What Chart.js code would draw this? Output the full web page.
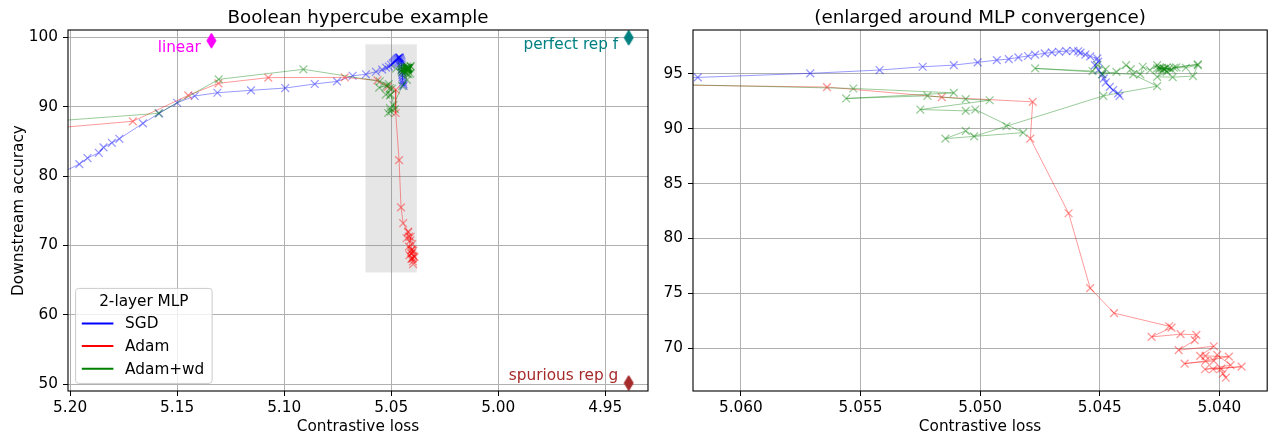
<!DOCTYPE html>
<html><head><meta charset="utf-8">
<script src="https://cdn.jsdelivr.net/npm/chart.js@4.4.1/dist/chart.umd.min.js"></script>
<style>
body{margin:0;background:#fff;width:1274px;height:439px;overflow:hidden;position:relative}
canvas{position:absolute;top:0}
#c1{left:0}
#c2{left:660px}
</style></head><body>
<canvas id="c1" width="660" height="439"></canvas>
<canvas id="c2" width="614" height="439"></canvas>
<script>
// ---------------- data ----------------
const seriesNames = ['SGD', 'Adam', 'Adam+wd'];

const sgdLoss = [5.2045, 5.1957, 5.1919, 5.1866, 5.1844, 5.1805, 5.1770, 5.1660, 5.1584, 5.1500,
  5.1418, 5.1312, 5.1155, 5.0995, 5.0857, 5.0753, 5.0680, 5.0618, 5.0571, 5.0542,
  5.0524, 5.0511, 5.0501, 5.0493, 5.0488, 5.0484, 5.0480, 5.0477, 5.0473, 5.0470,
  5.0467, 5.0464, 5.0461, 5.0459, 5.0458, 5.0456, 5.0454, 5.0451, 5.04506, 5.0452,
  5.04506, 5.04489, 5.04483, 5.04475, 5.04458, 5.04444, 5.04423, 5.04417];
const sgdAcc = [80.4, 81.73, 82.6, 83.36, 84.14, 84.8, 85.38, 87.6, 89.05, 90.58,
  91.55, 92.02, 92.37, 92.7, 93.28, 93.66, 94.47, 94.68, 95.05, 95.35,
  95.65, 95.8, 96.05, 96.26, 96.35, 96.5, 96.63, 96.75, 96.87, 96.96,
  97.02, 97.08, 97.11, 97.06, 96.93, 96.76, 96.6, 96.42, 96.11, 95.8,
  95.35, 94.95, 94.59, 94.22, 93.82, 93.52, 93.22, 93.0];

const adamLoss = [5.2400, 5.1707, 5.1448, 5.1307, 5.1074, 5.0717, 5.0564, 5.0516, 5.0478, 5.0479,
  5.0463, 5.0454, 5.0444, 5.0421, 5.0420, 5.04283, 5.04162, 5.04096, 5.04103, 5.0417,
  5.04023, 5.0408, 5.04058, 5.0396, 5.04058, 5.04145, 5.04023, 5.04009, 5.03953, 5.0406,
  5.03907, 5.04026, 5.03992, 5.03985, 5.03973];
const adamAcc = [86.06, 87.9, 91.64, 93.38, 94.2, 94.24, 93.8, 92.88, 92.45, 89.1,
  82.3, 75.48, 73.2, 72.0, 71.88, 71.03, 71.28, 71.22, 70.73, 69.82,
  70.18, 69.3, 69.3, 69.23, 68.84, 68.6, 68.84, 69.39, 68.45, 68.08,
  68.32, 68.08, 68.14, 67.68, 67.31];

const wdLoss = [5.2400, 5.1587, 5.1306, 5.0910, 5.0553, 5.0511, 5.0556, 5.0522, 5.0506, 5.0496,
  5.0525, 5.0506, 5.0502, 5.0482, 5.05145, 5.0506, 5.05025, 5.0489, 5.04485, 5.0426,
  5.0436, 5.0477, 5.0453, 5.0451, 5.04475, 5.0449, 5.0443, 5.0439, 5.0437, 5.0433,
  5.0432, 5.0429, 5.0426, 5.0425, 5.0424, 5.0422, 5.0419, 5.0414, 5.0409, 5.0411,
  5.04195, 5.0426, 5.0418, 5.0409, 5.0423, 5.0421, 5.0424, 5.0422, 5.0426, 5.0420,
  5.0425, 5.0423];
const wdAcc = [87.2, 89.05, 93.95, 95.4, 93.67, 93.27, 92.76, 93.0, 92.7, 92.6,
  91.75, 91.63, 91.75, 89.65, 89.1, 89.8, 89.31, 90.23, 93.0, 93.88,
  94.95, 95.5, 95.26, 95.8, 95.44, 94.95, 95.19, 95.8, 95.44, 94.95,
  95.65, 95.35, 95.8, 95.44, 95.56, 95.19, 95.56, 95.56, 95.8, 94.8,
  94.7, 94.73, 95.6, 95.87, 95.45, 95.5, 95.35, 95.6, 95.5, 95.4,
  95.55, 95.45];

// reference representations (diamonds)
const refLabels = ['linear', 'perfect rep f', 'spurious rep g'];
const refLoss = [5.134, 4.939, 4.939];
const refAcc = [99.52, 99.96, 50.15];

// axes
const leftXRange = [4.930, 5.201];
const leftYRange = [49.0, 101.07];
const leftXTicks = [5.20, 5.15, 5.10, 5.05, 5.00, 4.95];
const leftYTicks = [50, 60, 70, 80, 90, 100];
const zoomXRange = [5.0380, 5.0620];
const zoomYRange = [66.1, 99.0];
const rightXTicks = [5.060, 5.055, 5.050, 5.045, 5.040];
const rightYTicks = [70, 75, 80, 85, 90, 95];

// ---------------- styles ----------------
const FONT = "'DejaVu Sans', sans-serif";
const FS = 15.3;
const solidColors = ['#0000ff', '#ff0000', '#008000'];
const fadedColors = ['rgba(0,0,255,0.4)', 'rgba(255,0,0,0.4)', 'rgba(0,128,0,0.4)'];
const refColors = ['#ff00ff', '#008080', '#a52a2a'];
const refTextDy = [11.2, 11.2, -3.2];

function pts(xs, ys) { return xs.map((x, i) => ({ x: x, y: ys[i] })); }

function diamondImg(color) {
  const c = document.createElement('canvas');
  c.width = 11; c.height = 17;
  const g = c.getContext('2d');
  g.fillStyle = color; g.strokeStyle = color; g.lineWidth = 1;
  g.beginPath();
  g.moveTo(5.5, 1); g.lineTo(10, 8.5); g.lineTo(5.5, 16); g.lineTo(1, 8.5);
  g.closePath(); g.fill(); g.stroke();
  return c;
}

function seriesDatasets() {
  const xs = [sgdLoss, adamLoss, wdLoss], ys = [sgdAcc, adamAcc, wdAcc];
  return seriesNames.map((name, i) => ({
    label: name,
    data: pts(xs[i], ys[i]),
    showLine: true,
    borderColor: fadedColors[i],
    borderWidth: 1,
    pointStyle: 'crossRot',
    pointRadius: 5.5,
    pointBorderColor: fadedColors[i],
    pointBackgroundColor: fadedColors[i],
    pointBorderWidth: 1.3,
    tension: 0,
    order: 3 - i
  }));
}

function scaleOpts(xr, yr, xt, yt, xdec, yTitle, yWidth) {
  const tickFont = { family: FONT, size: FS };
  return {
    x: {
      type: 'linear', reverse: true, min: xr[0], max: xr[1],
      afterBuildTicks: s => { s.ticks = xt.map(v => ({ value: v })); },
      afterFit: s => { s.height = 48; },
      ticks: { callback: v => Number(v).toFixed(xdec), font: tickFont, color: '#000', padding: 3, maxRotation: 0, autoSkip: false },
      grid: { color: '#b0b0b0', lineWidth: 1, tickLength: 5, tickColor: '#000', tickWidth: 1 },
      border: { display: false },
      title: { display: true, text: 'Contrastive loss', font: tickFont, color: '#000', padding: { top: 2.3, bottom: 2.3 } }
    },
    y: {
      type: 'linear', min: yr[0], max: yr[1],
      afterBuildTicks: s => { s.ticks = yt.map(v => ({ value: v })); },
      afterFit: s => { s.width = yWidth; },
      ticks: { callback: v => String(v), font: tickFont, color: '#000', padding: 5, autoSkip: false },
      grid: { color: '#b0b0b0', lineWidth: 1, tickLength: 5, tickColor: '#000', tickWidth: 1 },
      border: { display: false },
      title: { display: !!yTitle, text: yTitle || '', font: tickFont, color: '#000', padding: { top: 9.6, bottom: 9.6 } }
    }
  };
}

const decorPlugin = {
  id: 'decor',
  beforeDatasetsDraw(chart, args, opts) {
    const { ctx, scales: { x, y } } = chart;
    if (opts.rect) {
      const x0 = x.getPixelForValue(opts.rect.x[0]), x1 = x.getPixelForValue(opts.rect.x[1]);
      const y0 = y.getPixelForValue(opts.rect.y[0]), y1 = y.getPixelForValue(opts.rect.y[1]);
      ctx.save();
      ctx.fillStyle = 'rgba(128,128,128,0.2)';
      ctx.fillRect(Math.min(x0, x1), Math.min(y0, y1), Math.abs(x1 - x0), Math.abs(y1 - y0));
      ctx.restore();
    }
  },
  afterDatasetsDraw(chart, args, opts) {
    const { ctx, chartArea: a, scales: { x, y } } = chart;
    ctx.save();
    // frame
    ctx.strokeStyle = '#000'; ctx.lineWidth = 1.1;
    ctx.strokeRect(a.left, a.top, a.right - a.left, a.bottom - a.top);
    // reference annotations
    if (opts.refs) {
      ctx.font = FS + 'px ' + FONT;
      ctx.textAlign = 'right'; ctx.textBaseline = 'alphabetic';
      refLabels.forEach((t, i) => {
        const px = x.getPixelForValue(refLoss[i]), py = y.getPixelForValue(refAcc[i]);
        ctx.fillStyle = refColors[i];
        ctx.fillText(t, px - 10.5, py + refTextDy[i]);
      });
    }
    // legend
    if (opts.legend) {
      const bx = a.left + 7.6, w = 136.5, h = 95;
      const by = a.bottom - 7.6 - h;
      const r = 3;
      ctx.beginPath();
      ctx.moveTo(bx + r, by); ctx.lineTo(bx + w - r, by); ctx.arcTo(bx + w, by, bx + w, by + r, r);
      ctx.lineTo(bx + w, by + h - r); ctx.arcTo(bx + w, by + h, bx + w - r, by + h, r);
      ctx.lineTo(bx + r, by + h); ctx.arcTo(bx, by + h, bx, by + h - r, r);
      ctx.lineTo(bx, by + r); ctx.arcTo(bx, by, bx + r, by, r); ctx.closePath();
      ctx.fillStyle = 'rgba(255,255,255,0.8)'; ctx.fill();
      ctx.strokeStyle = '#cccccc'; ctx.lineWidth = 1; ctx.stroke();
      ctx.font = FS + 'px ' + FONT;
      ctx.fillStyle = '#000'; ctx.textAlign = 'center'; ctx.textBaseline = 'middle';
      ctx.fillText(opts.legend.title, bx + w / 2, by + 13.4);
      seriesNames.forEach((name, i) => {
        const cy = by + 35 + i * 22.7;
        ctx.strokeStyle = solidColors[i]; ctx.lineWidth = 2;
        ctx.beginPath(); ctx.moveTo(bx + 6.2, cy); ctx.lineTo(bx + 37.8, cy); ctx.stroke();
        ctx.fillStyle = '#000'; ctx.textAlign = 'left';
        ctx.fillText(name, bx + 49.5, cy + 1);
      });
    }
    ctx.restore();
  },
  afterDraw(chart, args, opts) {
    const { ctx, chartArea: a } = chart;
    if (opts.title) {
      ctx.save();
      ctx.font = '18.3px ' + FONT;
      ctx.fillStyle = '#000'; ctx.textAlign = 'center'; ctx.textBaseline = 'alphabetic';
      ctx.fillText(opts.title, (a.left + a.right) / 2, 23);
      ctx.restore();
    }
  }
};

const common = {
  responsive: false, devicePixelRatio: 1, animation: false,
  events: [],
};

// left chart
const leftDatasets = seriesDatasets();
leftDatasets.push({
  label: 'refs',
  data: pts(refLoss, refAcc),
  showLine: false,
  pointStyle: refColors.map(diamondImg),
  pointRadius: 8,
  clip: false,
  order: 0
});

new Chart(document.getElementById('c1'), {
  type: 'scatter',
  data: { datasets: leftDatasets },
  options: Object.assign({}, common, {
    layout: { padding: { top: 30, right: 12, left: 0, bottom: 0 } },
    scales: scaleOpts(leftXRange, leftYRange, leftXTicks, leftYTicks, 2, 'Downstream accuracy', 68),
    plugins: {
      legend: { display: false }, tooltip: { enabled: false }, title: { display: false },
      decor: { title: 'Boolean hypercube example', rect: { x: zoomXRange, y: zoomYRange }, refs: true, legend: { title: '2-layer MLP' } }
    }
  }),
  plugins: [decorPlugin]
});

// right chart
new Chart(document.getElementById('c2'), {
  type: 'scatter',
  data: { datasets: seriesDatasets() },
  options: Object.assign({}, common, {
    layout: { padding: { top: 30, right: 2, left: 0, bottom: 0 } },
    scales: scaleOpts(zoomXRange, zoomYRange, rightXTicks, rightYTicks, 3, null, 33),
    plugins: {
      legend: { display: false }, tooltip: { enabled: false }, title: { display: false },
      decor: { title: '(enlarged around MLP convergence)' }
    }
  }),
  plugins: [decorPlugin]
});
</script>
</body></html>
